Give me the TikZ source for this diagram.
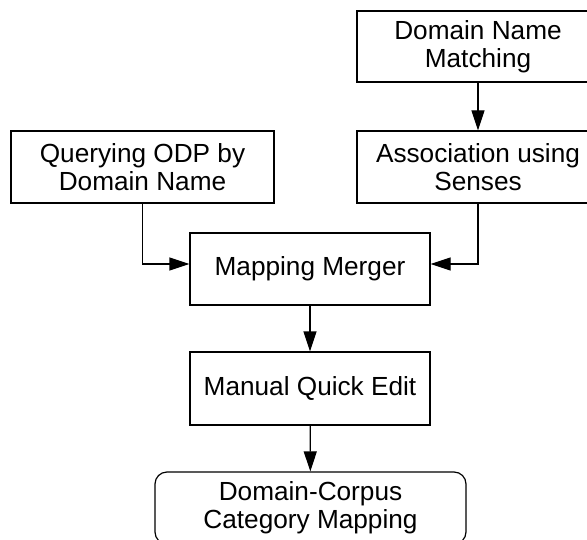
\documentclass[tikz,border=0pt]{standalone}
\usepackage{fontspec}
\setmainfont{Liberation Sans}
\usetikzlibrary{arrows.meta}

\begin{document}
\begin{tikzpicture}[x=0.5pt, y=-0.5pt,
		every node/.style={font=\fontsize{13.1}{14}\selectfont},
		box/.style={draw, line width=0.6pt, inner sep=0pt, align=center, minimum height=36pt},
		flow/.style={-{Triangle[length=10pt, width=6.5pt]}, line width=0.6pt}]
			\useasboundingbox (0,0) rectangle (587,539);
			\clip (0,0) rectangle (587,539);

			% Nodes
			\node[box, minimum width=121pt, minimum height=35.5pt] (match) at (478, 46.5) {Domain Name\\Matching};
			\node[box, minimum width=121pt] (assoc) at (478, 167) {Association using\\Senses};
			\node[box, minimum width=131.5pt] (query) at (142.5, 167) {Querying ODP by\\Domain Name};
			\node[box, minimum width=120pt] (merger) at (310, 269) {Mapping Merger};
			\node[box, minimum width=120pt, minimum height=36.5pt] (edit) at (310, 388.5) {Manual Quick Edit};
			\node[box, rounded corners=6pt, minimum width=155.5pt] (result) at (310.5, 508) {Domain-Corpus\\Category Mapping};

			% Edges
			\draw[flow] (match) -- (assoc);
			\draw[flow] (query.south) |- ([yshift=2.5pt]merger.west);
			\draw[flow] (assoc.south) |- ([yshift=2.5pt]merger.east);
			\draw[flow] (merger) -- (edit);
			\draw[flow] (edit) -- (result);
		\end{tikzpicture}
\end{document}
